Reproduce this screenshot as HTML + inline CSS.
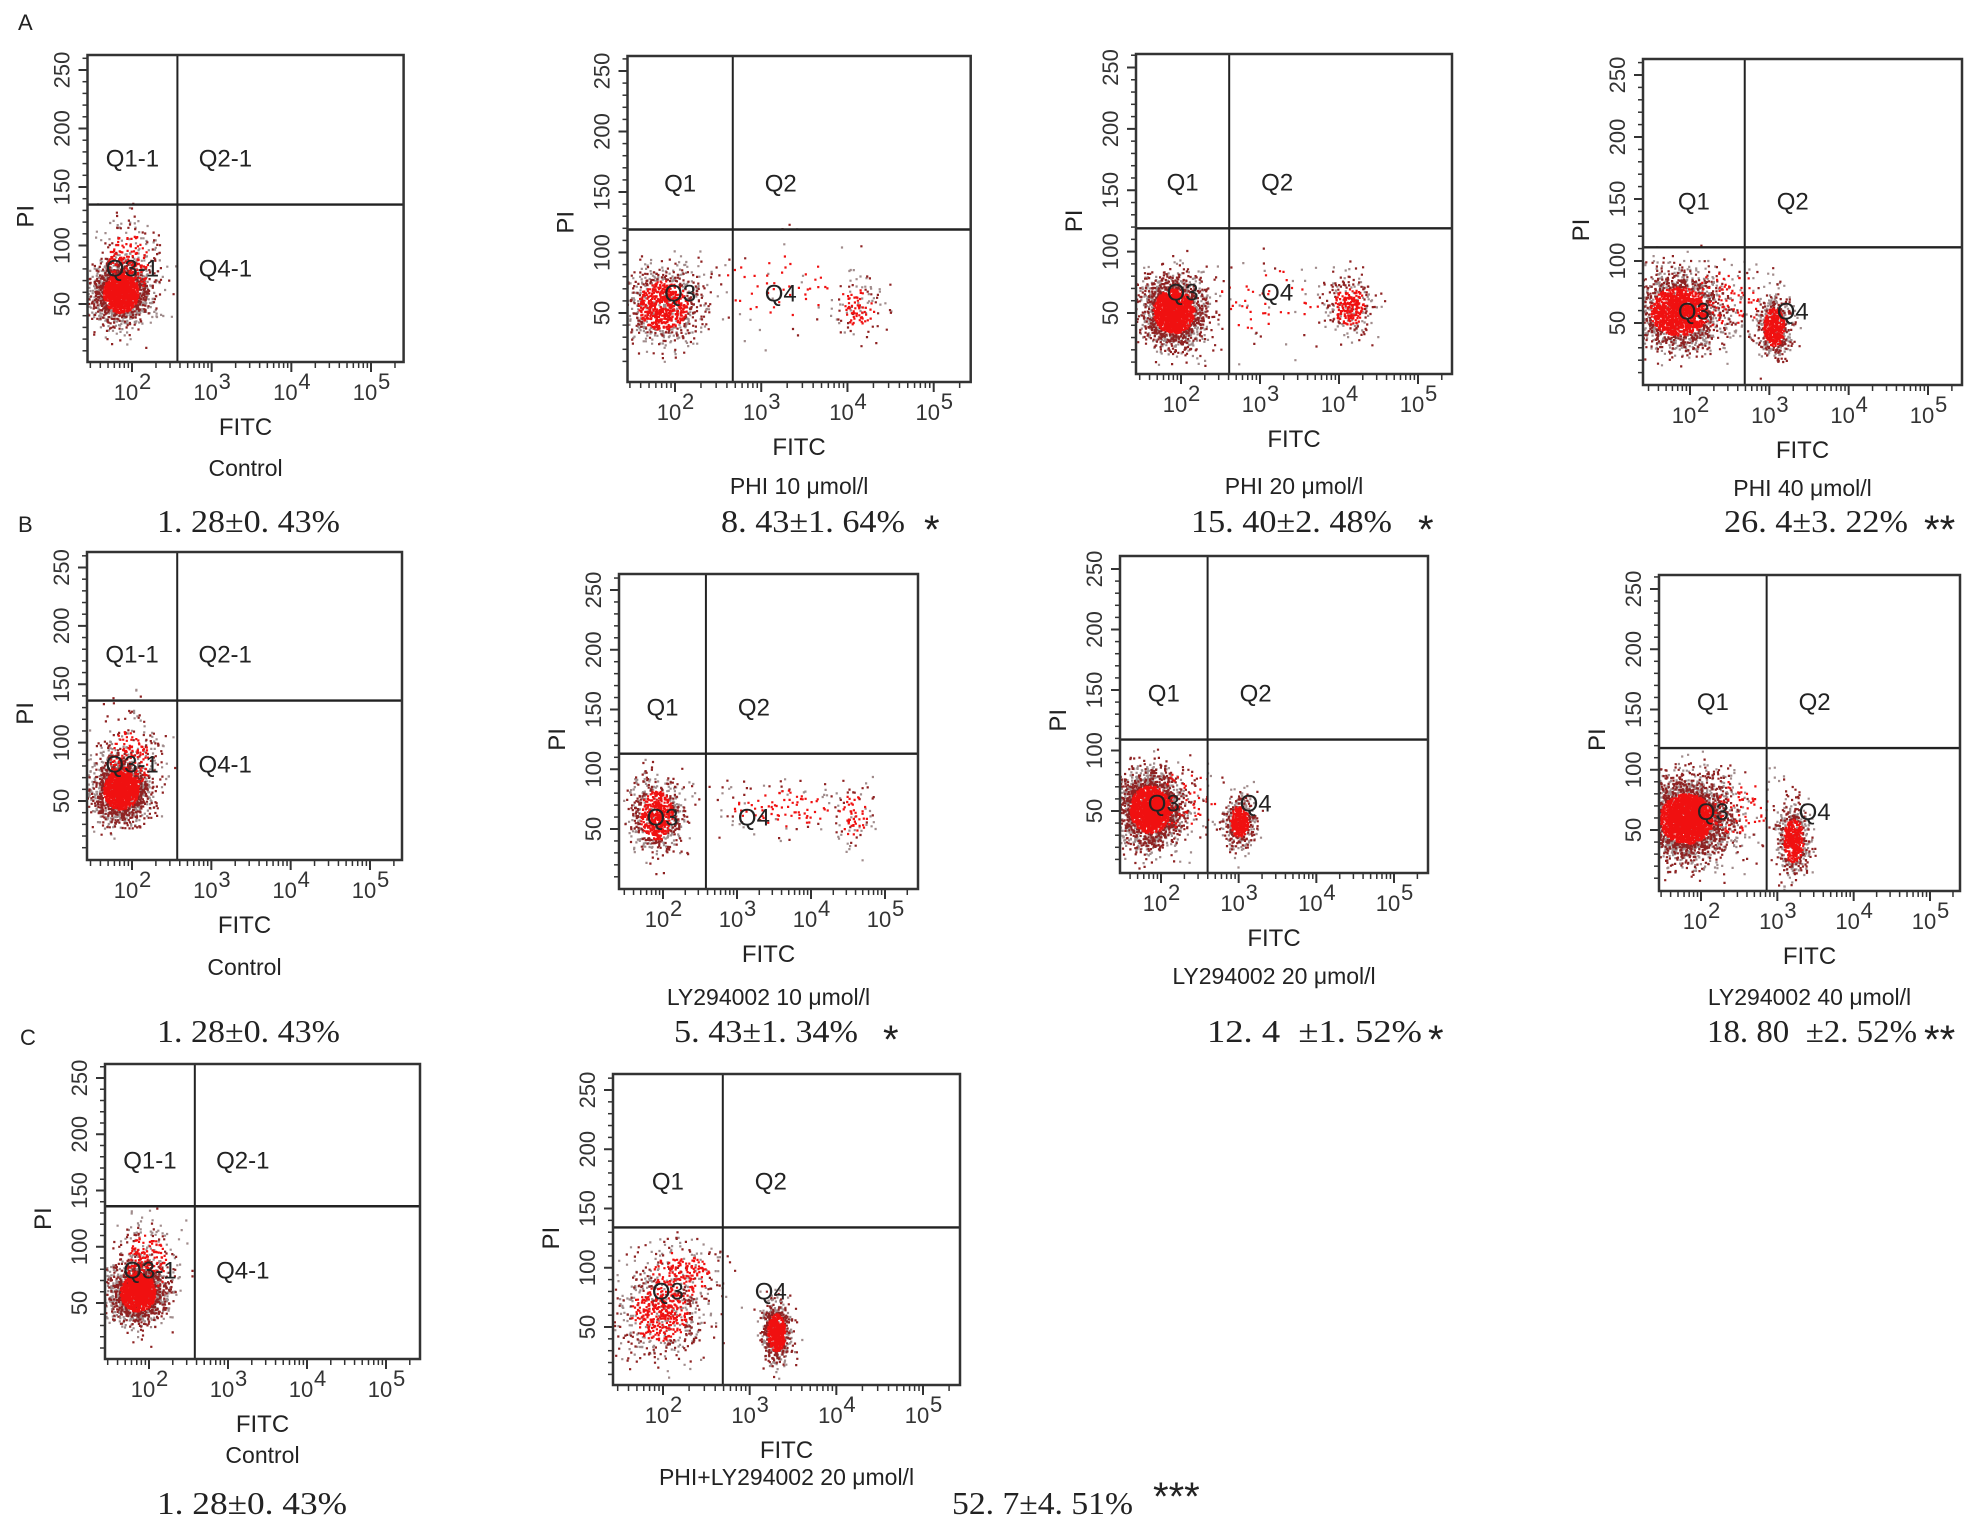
<!DOCTYPE html>
<html><head><meta charset="utf-8"><title>Flow cytometry apoptosis panels</title>
<style>
html,body{margin:0;padding:0;background:#fff;}
svg{display:block;}
.tk{font-family:"Liberation Sans",sans-serif;font-size:22px;fill:#333;}
.ql{font-family:"Liberation Sans",sans-serif;font-size:24px;fill:#222;}
.ax{font-family:"Liberation Sans",sans-serif;font-size:24px;fill:#222;}
.sub{font-family:"Liberation Sans",sans-serif;font-size:23px;fill:#222;}
.pct{font-family:"Liberation Serif","Noto Serif CJK SC",serif;font-size:32px;fill:#222;}
.star{font-family:"Liberation Sans",sans-serif;font-size:40px;fill:#222;}
.let{font-family:"Liberation Sans",sans-serif;font-size:22px;fill:#222;}
</style></head>
<body>
<svg id="fig" width="1975" height="1519" viewBox="0 0 1975 1519" xmlns="http://www.w3.org/2000/svg">
<rect x="0" y="0" width="1975" height="1519" fill="#fff"/>
<text class="let" x="18" y="30">A</text>
<text class="let" x="18" y="532">B</text>
<text class="let" x="20" y="1045">C</text>
<g id="plots"></g>
<g id="texts"></g>
</svg>
<script>
// ---- panel data ----
const panelNames = ["a-control","a-phi-10","a-phi-20","a-phi-40","b-control","b-ly-10","b-ly-20","b-ly-40","c-control","c-phi-ly-20"];
const panelSubtitles = ["Control","PHI 10 \u03bcmol/l","PHI 20 \u03bcmol/l","PHI 40 \u03bcmol/l","Control","LY294002 10 \u03bcmol/l","LY294002 20 \u03bcmol/l","LY294002 40 \u03bcmol/l","Control","PHI+LY294002 20 \u03bcmol/l"];
const quadSuffix = ["-1","","","","-1","","","","-1",""];
// quadrant gates: log10(FITC) and PI value
const gateX = [2.57,2.67,2.61,2.69,2.57,2.58,2.60,2.86,2.58,2.69];
const gateY = [135,119,119,111,136,113,109,118,136,134];
// x ticks (decade exponents) and y tick labels
const xTickExps = [2,3,4,5];
const yTickVals = [50,100,150,200,250];
// cell populations: panel index, log10 FITC center, PI center, sd log, sd PI, count
const clusterPanel = [0,0, 1,1,1, 2,2,2, 3,3,3, 4,4, 5,5,5, 6,6,6, 7,7,7, 8,8, 9,9,9];
const clusterLogX  = [1.85,1.95, 1.85,4.12,3.3, 1.9,4.12,3.1, 1.85,3.05,2.4, 1.85,1.95, 1.9,3.6,4.55, 1.85,3.0,2.3, 1.8,3.2,2.4, 1.85,1.95, 1.95,3.3,2.2];
const clusterY     = [60,85, 57,55,72, 52,56,60, 60,47,70, 60,85, 62,68,62, 52,42,60, 60,42,70, 60,85, 62,46,95];
const clusterSdX   = [0.17,0.2, 0.22,0.14,0.6, 0.2,0.15,0.5, 0.28,0.1,0.4, 0.17,0.2, 0.17,0.5,0.15, 0.2,0.09,0.35, 0.27,0.1,0.4, 0.17,0.2, 0.25,0.08,0.25];
const clusterSdY   = [13,20, 16,12,22, 14,12,20, 15,12,18, 13,20, 16,12,14, 15,10,18, 16,14,18, 13,20, 18,12,15];
const clusterCount = [1900,300, 1000,120,90, 2200,330,80, 2200,650,150, 1900,300, 800,130,90, 2400,550,120, 3600,650,150, 1900,300, 650,800,300];

// ---- layout (pixel calibration per panel, not data) ----
const boxL=[87.5,627.5,1136,1643,87,619,1120,1659,105,613];
const boxT=[55,56,54,59,552,574,556,575,1064,1074];
const boxR=[403.6,970.7,1452,1962,402,918,1428,1960,420,960];
const boxB=[362,382,374,385,860,889,873,891,1359,1385];
const px2=[132,675,1181,1690,132,663,1161,1701,149,663];
const px5=[371,933.7,1418,1928,370,885,1394,1930,386,923];
const py250=[70,71,67.5,75,567.5,590,569,589,1078,1090];
const py50=[304,313,313,323,801,829,811,830,1303,1327];
const subY=[468,486,486,488,967,997,976,997,1455,1477];

const NS="http://www.w3.org/2000/svg";
function mk(tag,attrs,parent){const e=document.createElementNS(NS,tag);for(const k in attrs)e.setAttribute(k,attrs[k]);if(parent)parent.appendChild(e);return e;}
let seed=12345;
function rnd(){seed|=0;seed=seed+0x6D2B79F5|0;let t=Math.imul(seed^seed>>>15,1|seed);t=t+Math.imul(t^t>>>7,61|t)^t;return((t^t>>>14)>>>0)/4294967296;}
function gauss(){let u=rnd()||1e-9,v=rnd();return Math.sqrt(-2*Math.log(u))*Math.cos(2*Math.PI*v);}

const plots=document.getElementById('plots');
for(let p=0;p<panelNames.length;p++){
  const L=boxL[p],T=boxT[p],R=boxR[p],B=boxB[p];
  const sx=lv=>px2[p]+(lv-2)*(px5[p]-px2[p])/3;
  const sy=v=>py50[p]-(v-50)*(py50[p]-py250[p])/200;
  const g=mk('g',{},plots);
  
  
  const cid='clip'+p;
  const cp=mk('clipPath',{id:cid},g);mk('rect',{x:L,y:T,width:R-L,height:B-T},cp);
  const dots=mk('g',{'clip-path':'url(#'+cid+')'},g);
  
  
  let path1='',path2='',path3='';
  for(let c=0;c<clusterPanel.length;c++){
    if(clusterPanel[c]!==p)continue;
    for(let i=0;i<clusterCount[c];i++){
      const a=gauss(),b=gauss();
      const x=sx(clusterLogX[c]+a*clusterSdX[c]);
      const y=sy(clusterY[c]+b*clusterSdY[c]);
      const r=Math.sqrt(a*a+b*b);const q=rnd();
      const s='M'+x.toFixed(1)+' '+y.toFixed(1)+'h2.2v2.2h-2.2z';
      if(r<1.3&&q<0.85)path1+=s;else if(q<0.5)path2+=s;else path3+=s;
    }
  }
  mk('path',{d:path3,fill:'#a08c8c'},dots);
  mk('path',{d:path2,fill:'#8e2222'},dots);
  mk('path',{d:path1,fill:'#f01010'},dots);
  // quadrant lines
  const gx=sx(gateX[p]),gy=sy(gateY[p]);
  const vl=mk('line',{x1:gx,y1:T,x2:gx,y2:B,stroke:'#222','stroke-width':2},g);
  
  
  const hl=mk('line',{x1:L,y1:gy,x2:R,y2:gy,stroke:'#222','stroke-width':2.4},g);
  
  
  // box
  const bx=mk('rect',{x:L,y:T,width:R-L,height:B-T,fill:'none',stroke:'#333','stroke-width':2.5},g);
  
  
  // y ticks
  for(let v=10;v<=260;v+=10){const y=sy(v);if(y<T+1||y>B-1)continue;const maj=v%50===0;
    mk('line',{x1:L-(maj?9:5),y1:y,x2:L,y2:y,stroke:'#333','stroke-width':maj?2:1.5},g);}
  for(const v of yTickVals){const y=sy(v);const t=mk('text',{class:'tk',x:L-18,y:y,'text-anchor':'middle',transform:'rotate(-90 '+(L-18)+' '+y+')'},g);t.textContent=v;
    
    }
  // x ticks
  for(let d=1;d<=5;d++){for(let k=1;k<=9;k++){const lv=d+Math.log10(k);const x=sx(lv);if(x<L+1||x>R-1)continue;const maj=k===1;
    mk('line',{x1:x,y1:B,x2:x,y2:B+(maj?10:6),stroke:'#333','stroke-width':maj?2:1.5},g);}}
  for(const e of xTickExps){const x=sx(e);const t=mk('text',{class:'tk',x:x-6,y:B+38,'text-anchor':'middle'},g);t.textContent='10';
    
    
    const s=mk('text',{class:'tk',x:x+7,y:B+27,'font-size':'13'},g);s.textContent=String(e);}
  // axis titles
  const pi=mk('text',{class:'ax',x:L-54,y:sy(125),'text-anchor':'middle',transform:'rotate(-90 '+(L-54)+' '+sy(125)+')'},g);pi.textContent='PI';
  
  
  const cx=(L+R)/2;
  const fi=mk('text',{class:'ax',x:cx,y:B+73,'text-anchor':'middle'},g);fi.textContent='FITC';
  
  
  const su=mk('text',{class:'sub',x:cx,y:subY[p]+8,'text-anchor':'middle'},g);su.textContent=panelSubtitles[p];
  
  
  // quadrant labels
  const sf=quadSuffix[p];
  const lx=(L+gx)/2, rx=gx+48;
  const ql=[['Q1',lx,gy-38],['Q2',rx,gy-38],['Q3',lx,gy+72],['Q4',rx,gy+72]];
  for(const [n,x,y] of ql){const t=mk('text',{class:'ql',x:x,y:y,'text-anchor':'middle'},g);t.textContent=n+sf;
    
    }
}
// percentage annotations
const pctText=["1. 28\u00b10. 43%","8. 43\u00b11. 64%","15. 40\u00b12. 48%","26. 4\u00b13. 22%","1. 28\u00b10. 43%","5. 43\u00b11. 34%","12. 4\u2002\u00b11. 52%","18. 80\u2002\u00b12. 52%","1. 28\u00b10. 43%","52. 7\u00b14. 51%"];
const pctStars=["","*","*","**","","*","*","**","","***"];
const pctX=[157,721,1191,1724,157,674,1207,1707,157,952];
const pctW=[183,184,201,184,183,184,215,210,190,181];
const pctY=[521,521,521,521,1031,1031,1031,1031,1503,1503];
const starX=[0,924,1418,1924,0,883,1428,1924,0,1153];
const starY=[0,521,521,521,0,1031,1031,1031,0,1488];
const tg=document.getElementById('texts');
for(let i=0;i<pctText.length;i++){
  const t=mk('text',{class:'pct',x:pctX[i],y:pctY[i]+11,textLength:pctW[i],lengthAdjust:'spacingAndGlyphs'},tg);t.textContent=pctText[i];
  
  
  if(pctStars[i]){const s=mk('text',{class:'star',x:starX[i],y:starY[i]+22},tg);s.textContent=pctStars[i];
    
    }
}
</script>
</body></html>
